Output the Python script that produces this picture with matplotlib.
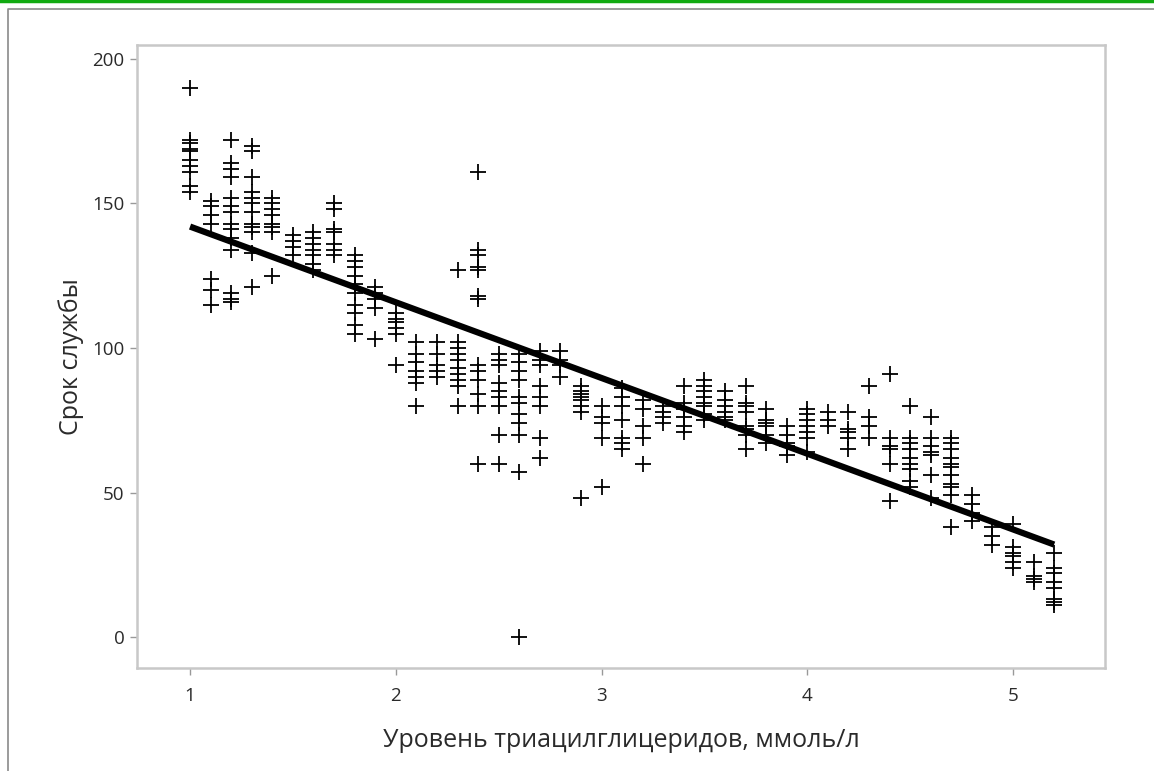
import matplotlib.pyplot as plt
from matplotlib.lines import Line2D

# triglyceride levels (mmol/l), one column of points per level
tg_levels = [1.0, 1.1, 1.2, 1.3, 1.4, 1.5, 1.6, 1.7, 1.8, 1.9,
             2.0, 2.1, 2.2, 2.3, 2.4, 2.5, 2.6, 2.7, 2.8, 2.9,
             3.0, 3.1, 3.2, 3.3, 3.4, 3.5, 3.6, 3.7, 3.8, 3.9,
             4.0, 4.1, 4.2, 4.3, 4.4, 4.5, 4.6, 4.7, 4.8, 4.9,
             5.0, 5.1, 5.2]

# service life values read for each level
service_life = [
    [190, 172, 171, 169, 168, 165, 163, 161, 156, 154],
    [151, 149, 146, 143, 124, 120, 115],
    [172, 164, 162, 159, 152, 149, 147, 143, 141, 138, 134, 119, 117, 116],
    [170, 168, 159, 154, 152, 150, 147, 143, 142, 140, 133, 121],
    [152, 150, 148, 146, 143, 142, 140, 125],
    [139, 137, 135, 132],
    [140, 138, 136, 134, 132, 129, 127],
    [150, 148, 141, 140, 136, 134, 132],
    [132, 130, 128, 125, 122, 119, 115, 112, 108, 105],
    [121, 119, 117, 114, 103],
    [112, 110, 109, 107, 105, 94],
    [102, 98, 95, 92, 90, 88, 80],
    [102, 98, 94, 92, 90],
    [127, 102, 100, 98, 96, 93, 91, 89, 87, 80],
    [161, 134, 132, 128, 127, 118, 117, 94, 92, 89, 84, 80, 60],
    [98, 96, 94, 88, 85, 83, 80, 70, 60],
    [98, 95, 92, 89, 83, 81, 77, 74, 70, 57, 0],
    [99, 96, 94, 87, 83, 80, 69, 62],
    [99, 96, 94, 90],
    [87, 85, 84, 83, 82, 80, 78, 48],
    [80, 76, 74, 69, 52],
    [86, 83, 80, 75, 69, 67, 65],
    [82, 79, 73, 69, 60],
    [80, 78, 76, 74],
    [87, 81, 79, 76, 73, 71],
    [89, 87, 85, 83, 81, 80, 77, 75],
    [85, 82, 80, 78, 76, 75],
    [87, 81, 80, 78, 73, 72, 70, 65],
    [79, 75, 74, 73, 70, 67],
    [73, 70, 67, 66, 63],
    [79, 77, 75, 73, 71, 69, 64],
    [78, 75, 73],
    [78, 72, 71, 69, 65],
    [87, 76, 73, 69],
    [91, 69, 66, 65, 60, 47],
    [80, 69, 67, 65, 62, 60, 58, 54, 52],
    [76, 69, 66, 64, 63, 56, 48],
    [69, 67, 65, 62, 60, 59, 56, 53, 52, 49, 38],
    [49, 46, 43, 40],
    [38, 35, 32],
    [39, 31, 29, 28, 26, 24],
    [26, 21, 20, 19],
    [29, 24, 22, 19, 17, 13, 12, 11],
]

# fitted regression line endpoints
fit_x = [1.0, 5.2]
fit_y = [142, 32]

x_ticks = [1, 2, 3, 4, 5]
y_ticks = [0, 50, 100, 150, 200]

plt.rcParams['font.family'] = ['Open Sans', 'DejaVu Sans']

fig = plt.figure(figsize=(11.54, 7.71), dpi=100)

# frame decorations around the picture
fig.add_artist(Line2D([0, 1], [0.9985, 0.9985], transform=fig.transFigure,
                      color='#11aa11', lw=2.5))
fig.add_artist(Line2D([0.0065, 0.0065, 1], [0, 0.9885, 0.9885],
                      transform=fig.transFigure, color='#8a8a8a', lw=1.2))

ax = fig.add_axes([0.1187, 0.1336, 0.8388, 0.808])

xs = []
ys = []
for level, values in zip(tg_levels, service_life):
    xs.extend([level] * len(values))
    ys.extend(values)

ax.plot(xs, ys, linestyle='none', marker='+', markersize=12,
        markeredgewidth=1.3, color='black')
ax.plot(fit_x, fit_y, color='black', lw=4.5, solid_capstyle='butt')

ax.set_xlim(0.742, 5.447)
ax.set_ylim(-10.7, 204.8)
ax.set_xticks(x_ticks)
ax.set_yticks(y_ticks)

for spine in ax.spines.values():
    spine.set_color('#c8c8c8')
    spine.set_linewidth(1.8)

ax.tick_params(direction='out', length=5, width=1, color='#999999',
               labelsize=13.5, labelcolor='#2a2a2a', pad=4)
ax.tick_params(axis='x', pad=9)

ax.set_xlabel("Уровень триацилглицеридов, ммоль/л", fontsize=18,
              color='#2a2a2a', labelpad=16)
ax.set_ylabel("Срок службы", fontsize=18, color='#2a2a2a', labelpad=6)

plt.savefig("out.png", dpi=100)
